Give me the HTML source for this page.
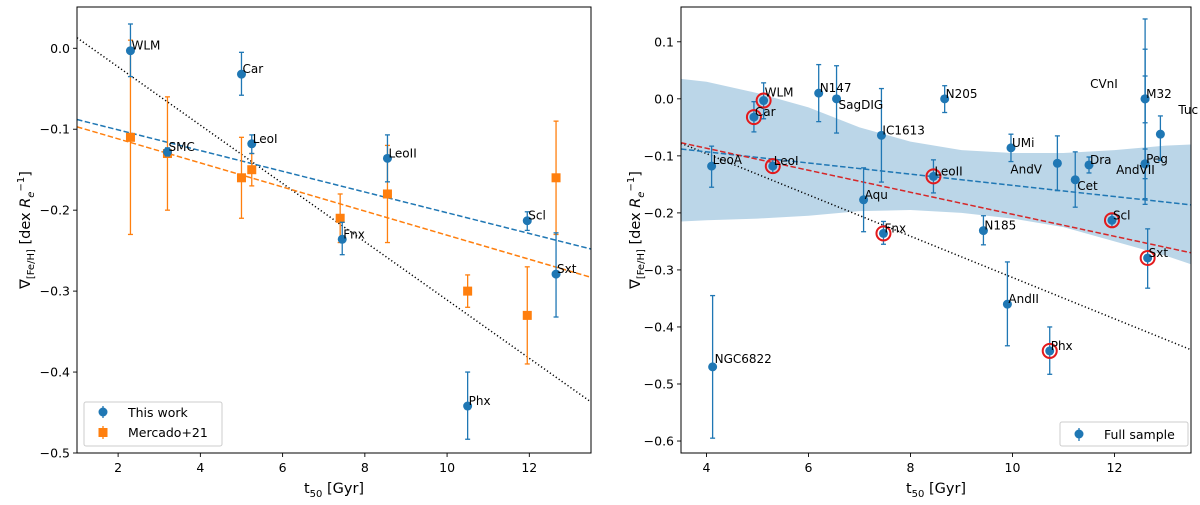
<!DOCTYPE html>
<html><head><meta charset="utf-8"><style>
body{margin:0;background:#fff;}
svg{display:block;font-family:"DejaVu Sans","Liberation Sans",sans-serif;}
</style></head><body>
<svg id="c" width="1200" height="505" viewBox="0 0 1200 505" xmlns="http://www.w3.org/2000/svg"></svg>
<script>
// ---- Left panel data ----
const lNames=["WLM","Car","SMC","LeoI","LeoII","Fnx","Scl","Sxt","Phx"];
const lX=[2.3,5.0,3.2,5.25,8.55,7.45,11.95,12.65,10.5];
const lY=[-0.003,-0.032,-0.128,-0.118,-0.136,-0.236,-0.213,-0.279,-0.442];
const lLo=[-0.035,-0.058,-0.133,-0.13,-0.165,-0.255,-0.225,-0.332,-0.483];
const lHi=[0.030,-0.005,-0.123,-0.107,-0.107,-0.215,-0.202,-0.228,-0.400];
const mX=[2.3,3.2,5.0,5.25,7.4,8.55,10.5,11.95,12.65];
const mY=[-0.11,-0.13,-0.16,-0.15,-0.21,-0.18,-0.30,-0.33,-0.16];
const mLo=[-0.23,-0.20,-0.21,-0.17,-0.24,-0.24,-0.32,-0.39,-0.23];
const mHi=[0.01,-0.06,-0.11,-0.13,-0.18,-0.12,-0.28,-0.27,-0.09];
const lXTicks=[2,4,6,8,10,12];
const lYTicks=[0.0,-0.1,-0.2,-0.3,-0.4,-0.5];
const lFitBlue=[[1,-0.088],[13.5,-0.248]];
const lFitOrange=[[1,-0.097],[13.5,-0.283]];
const lFitBlack=[[1,0.013],[13.5,-0.437]];
// ---- Right panel data ----
const rNames=["LeoA","NGC6822","Car","WLM","LeoI","N147","SagDIG","IC1613","Aqu","Fnx","LeoII","N205","N185","UMi","AndII","AndV","Cet","Dra","Phx","Scl","Sxt","CVnI","M32","AndVII","Peg","Tuc"];
const rX=[4.1,4.12,4.93,5.12,5.3,6.2,6.55,7.43,7.08,7.47,8.45,8.67,9.43,9.97,9.9,10.88,11.23,11.5,10.73,11.95,12.65,12.6,12.6,12.6,12.6,12.9];
const rY=[-0.118,-0.47,-0.032,-0.003,-0.118,0.01,0.0,-0.064,-0.177,-0.236,-0.136,0.0,-0.231,-0.086,-0.36,-0.113,-0.142,-0.116,-0.442,-0.213,-0.279,0.0,0.0,-0.114,-0.114,-0.062];
const rLo=[-0.155,-0.595,-0.058,-0.035,-0.13,-0.04,-0.06,-0.146,-0.233,-0.255,-0.165,-0.024,-0.256,-0.11,-0.433,-0.161,-0.19,-0.13,-0.483,-0.225,-0.332,-0.175,-0.042,-0.185,-0.14,-0.108];
const rHi=[-0.083,-0.345,-0.005,0.028,-0.107,0.06,0.058,0.018,-0.121,-0.215,-0.107,0.023,-0.205,-0.062,-0.286,-0.065,-0.093,-0.102,-0.400,-0.202,-0.228,0.14,0.087,0.04,-0.088,-0.03];
const rRed=[0,0,1,1,1,0,0,0,0,1,1,0,0,0,0,0,0,0,1,1,1,0,0,0,0,0];
const bandX=[3.5,4,5,6,7,8,9,10,11,12,13,13.5];
const bandUp=[0.035,0.03,0.01,-0.015,-0.05,-0.075,-0.09,-0.095,-0.095,-0.09,-0.082,-0.08];
const bandDn=[-0.215,-0.213,-0.21,-0.205,-0.197,-0.195,-0.2,-0.21,-0.225,-0.25,-0.275,-0.29];
const rXTicks=[4,6,8,10,12];
const rYTicks=[0.1,0.0,-0.1,-0.2,-0.3,-0.4,-0.5,-0.6];
const rFitBlue=[[3.5,-0.088],[13.5,-0.186]];
const rFitRed=[[3.5,-0.077],[13.5,-0.27]];
const rFitBlack=[[3.5,-0.078],[13.5,-0.44]];

const NS="http://www.w3.org/2000/svg";
const svg=document.getElementById('c');
function mk(tag,attrs,parent,text){const e=document.createElementNS(NS,tag);for(const k in attrs)e.setAttribute(k,attrs[k]);if(text!==undefined)e.textContent=text;(parent||svg).appendChild(e);return e;}
const BLUE="#1f77b4",ORANGE="#ff7f0e";

function panel(name,L,R,T,B,x0,x1,y0,y1){
  const g=mk('g',{});
  
  
  const sx=v=>L+(v-x0)/(x1-x0)*(R-L), sy=v=>T+(y1-v)/(y1-y0)*(B-T);
  const clip='clip-'+name;
  const cp=mk('clipPath',{id:clip},g);mk('rect',{x:L,y:T,width:R-L,height:B-T},cp);
  const plot=mk('g',{'clip-path':'url(#'+clip+')'},g);
  return {g,plot,sx,sy,L,R,T,B};
}
function axes(p,xt,yt,fmt,ylabX){
  for(const t of xt){const x=p.sx(t);
    mk('line',{x1:x,x2:x,y1:p.B,y2:p.B+4,stroke:'#000','stroke-width':0.9},p.g);
    const lb=mk('text',{x:x,y:p.B+19,'font-size':12.5,'text-anchor':'middle'},p.g,String(t));
    }
  for(const t of yt){const y=p.sy(t);
    mk('line',{x1:p.L-4,x2:p.L,y1:y,y2:y,stroke:'#000','stroke-width':0.9},p.g);
    const s=(t<0?'\u2212':'')+Math.abs(t).toFixed(1);
    const lb=mk('text',{x:p.L-7,y:y+4.5,'font-size':12.5,'text-anchor':'end'},p.g,s);
    }
  const fr=mk('rect',{x:p.L,y:p.T,width:p.R-p.L,height:p.B-p.T,fill:'none',stroke:'#000','stroke-width':1},p.g);
  
  const xl=mk('text',{x:(p.L+p.R)/2,y:p.B+40,'font-size':14.5,'text-anchor':'middle'},p.g);
  
  xl.innerHTML='t<tspan font-size="10" dy="4">50</tspan><tspan dy="-4"> [Gyr]</tspan>';
  const cy=(p.T+p.B)/2;
  const yl=mk('text',{x:ylabX,y:cy,'font-size':14.5,'text-anchor':'middle',transform:'rotate(-90 '+ylabX+' '+cy+')'},p.g);
  
  yl.innerHTML='\u2207<tspan font-size="10" dy="4">[Fe/H]</tspan><tspan dy="-4"> [dex </tspan><tspan font-style="italic">R</tspan><tspan font-size="10" font-style="italic" dy="4">e</tspan><tspan font-size="10" dy="-10">\u22121</tspan><tspan dy="6">]</tspan>';
}
function fit(p,pts,color,dash,nm){
  const l=mk('line',{x1:p.sx(pts[0][0]),y1:p.sy(pts[0][1]),x2:p.sx(pts[1][0]),y2:p.sy(pts[1][1]),stroke:color,'stroke-width':1.5,'stroke-dasharray':dash},p.plot);
  
}
function ebar(p,x,lo,hi,color){
  const X=p.sx(x);
  mk('line',{x1:X,x2:X,y1:p.sy(lo),y2:p.sy(hi),stroke:color,'stroke-width':1.3},p.plot);
  mk('line',{x1:X-2.5,x2:X+2.5,y1:p.sy(lo),y2:p.sy(lo),stroke:color,'stroke-width':1.3},p.plot);
  mk('line',{x1:X-2.5,x2:X+2.5,y1:p.sy(hi),y2:p.sy(hi),stroke:color,'stroke-width':1.3},p.plot);
}

// LEFT
const P1=panel('left-panel',77,591,7,453,1,13.5,-0.5,0.051);
fit(P1,lFitBlack,'#000','1.2 2.4','fit-black-dotted');
fit(P1,lFitBlue,BLUE,'5.5 2.5','fit-blue-dashed');
fit(P1,lFitOrange,ORANGE,'5.5 2.5','fit-orange-dashed');
for(let i=0;i<mX.length;i++){
  ebar(P1,mX[i],mLo[i],mHi[i],ORANGE);
  const r=mk('rect',{x:P1.sx(mX[i])-4.5,y:P1.sy(mY[i])-4.5,width:9,height:9,fill:ORANGE},P1.plot);
  
}
for(let i=0;i<lX.length;i++){
  ebar(P1,lX[i],lLo[i],lHi[i],BLUE);
  const c=mk('circle',{cx:P1.sx(lX[i]),cy:P1.sy(lY[i]),r:4.5,fill:BLUE},P1.plot);
  
  const t=mk('text',{x:P1.sx(lX[i])+1,y:P1.sy(lY[i])-1,'font-size':12},P1.plot,lNames[i]);
  
}
axes(P1,lXTicks,lYTicks,null,30);
const lg1=mk('g',{},P1.g);

mk('rect',{x:84,y:402,width:138,height:44,rx:2,fill:'#fff',stroke:'#ccc','stroke-width':1},lg1);
mk('line',{x1:103,x2:103,y1:406,y2:418,stroke:BLUE,'stroke-width':1.3},lg1);
mk('circle',{cx:103,cy:412,r:4.5,fill:BLUE},lg1);
mk('text',{x:128,y:417,'font-size':12.5},lg1,'This work');
mk('line',{x1:103,x2:103,y1:426,y2:439,stroke:ORANGE,'stroke-width':1.3},lg1);
mk('rect',{x:98.5,y:428,width:9,height:9,fill:ORANGE},lg1);
mk('text',{x:128,y:437,'font-size':12.5},lg1,'Mercado+21');

// RIGHT
const P2=panel('right-panel',681,1191,7,453,3.5,13.5,-0.621,0.161);
let d='M'+bandX.map((x,i)=>P2.sx(x)+','+P2.sy(bandUp[i])).join(' L');
for(let i=bandX.length-1;i>=0;i--)d+=' L'+P2.sx(bandX[i])+','+P2.sy(bandDn[i]);
const band=mk('path',{d:d+'Z',fill:BLUE,'fill-opacity':0.3},P2.plot);

fit(P2,rFitBlack,'#000','1.2 2.4','fit-black-dotted');
fit(P2,rFitBlue,BLUE,'5.5 2.5','fit-blue-dashed');
fit(P2,rFitRed,'#d62728','5.5 2.5','fit-red-dashed');
const off={CVnI:[-55,-11],AndVII:[-29,10],Tuc:[18,-20],AndV:[-47,10],Cet:[2,10],LeoA:[1,-2],NGC6822:[2,-4],SagDIG:[2,10],WLM:[1,-4]};
for(let i=0;i<rX.length;i++){
  ebar(P2,rX[i],rLo[i],rHi[i],BLUE);
  if(rRed[i]){const rc=mk('circle',{cx:P2.sx(rX[i]),cy:P2.sy(rY[i]),r:7,fill:'none',stroke:'#e31a1c','stroke-width':2},P2.plot);
    }
  const c=mk('circle',{cx:P2.sx(rX[i]),cy:P2.sy(rY[i]),r:4.5,fill:BLUE},P2.plot);
  
  const o=off[rNames[i]]||[1,-1];
  const t=mk('text',{x:P2.sx(rX[i])+o[0],y:P2.sy(rY[i])+o[1],'font-size':12},P2.g,rNames[i]);
  
}
axes(P2,rXTicks,rYTicks,null,640);
const lg2=mk('g',{},P2.g);

mk('rect',{x:1060,y:422,width:128,height:24,rx:2,fill:'#fff',stroke:'#ccc','stroke-width':1},lg2);
mk('line',{x1:1079,x2:1079,y1:428,y2:441,stroke:BLUE,'stroke-width':1.3},lg2);
mk('circle',{cx:1079,cy:434,r:4.5,fill:BLUE},lg2);
mk('text',{x:1104,y:439,'font-size':12.5},lg2,'Full sample');
</script>
</body></html>
